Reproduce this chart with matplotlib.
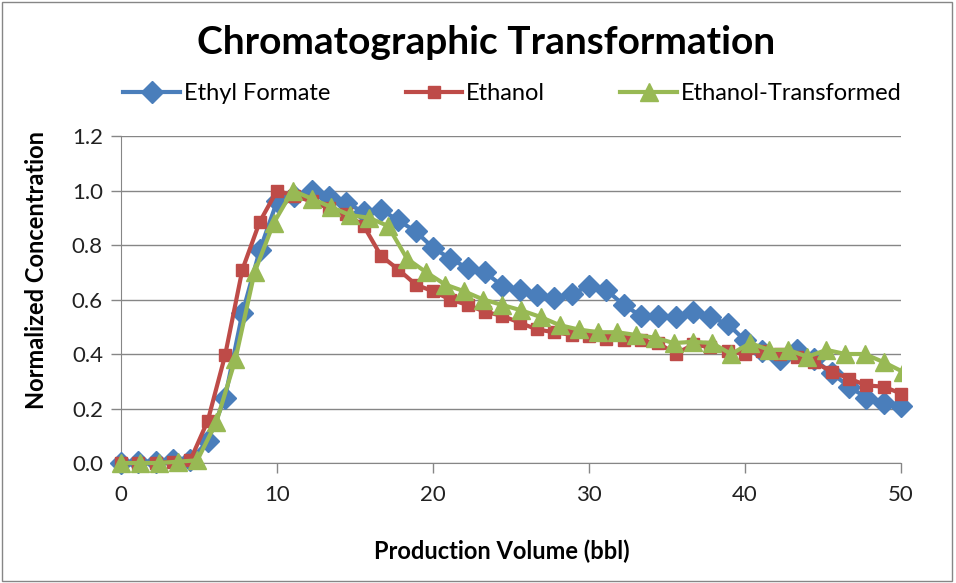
import matplotlib.pyplot as plt
from matplotlib.patches import Rectangle

# production volume (bbl) for the measured samples
volume = [0.0, 1.11, 2.22, 3.33, 4.44, 5.56, 6.67, 7.78, 8.89, 10.0,
          11.11, 12.22, 13.33, 14.44, 15.56, 16.67, 17.78, 18.89, 20.0, 21.11,
          22.22, 23.33, 24.44, 25.56, 26.67, 27.78, 28.89, 30.0, 31.11, 32.22,
          33.33, 34.44, 35.56, 36.67, 37.78, 38.89, 40.0, 41.11, 42.22, 43.33,
          44.44, 45.56, 46.67, 47.78, 48.89, 50.0]

ethyl_formate = [0.0, 0.005, 0.005, 0.01, 0.01, 0.08, 0.24, 0.55, 0.78, 0.96,
                 0.98, 1.0, 0.975, 0.955, 0.92, 0.93, 0.89, 0.85, 0.79, 0.75,
                 0.715, 0.70, 0.65, 0.635, 0.615, 0.605, 0.62, 0.65, 0.635, 0.58,
                 0.54, 0.54, 0.535, 0.555, 0.535, 0.51, 0.45, 0.41, 0.38, 0.415,
                 0.38, 0.33, 0.28, 0.24, 0.22, 0.21]

ethanol = [0.0, 0.0, 0.0, 0.005, 0.01, 0.155, 0.395, 0.71, 0.885, 1.0,
           0.98, 0.96, 0.935, 0.915, 0.87, 0.76, 0.71, 0.655, 0.63, 0.60,
           0.58, 0.555, 0.54, 0.515, 0.49, 0.48, 0.47, 0.465, 0.455, 0.45,
           0.45, 0.44, 0.40, 0.435, 0.425, 0.41, 0.40, 0.41, 0.40, 0.39,
           0.37, 0.335, 0.31, 0.285, 0.28, 0.255]

# transformed volume axis for ethanol
volume_tr = [0.0, 1.22, 2.44, 3.67, 4.89, 6.11, 7.33, 8.56, 9.78, 11.0,
             12.22, 13.44, 14.67, 15.89, 17.11, 18.33, 19.56, 20.78, 22.0, 23.22,
             24.44, 25.67, 26.89, 28.11, 29.33, 30.56, 31.78, 33.0, 34.22, 35.44,
             36.67, 37.89, 39.11, 40.33, 41.56, 42.78, 44.0, 45.22, 46.44, 47.67,
             48.89, 50.11]

ethanol_tr = [0.0, 0.0, 0.0, 0.005, 0.01, 0.15, 0.38, 0.70, 0.88, 1.0,
              0.97, 0.94, 0.91, 0.90, 0.87, 0.75, 0.70, 0.655, 0.63, 0.60,
              0.58, 0.56, 0.536, 0.506, 0.49, 0.48, 0.48, 0.47, 0.46, 0.44,
              0.445, 0.44, 0.40, 0.44, 0.415, 0.415, 0.39, 0.415, 0.40, 0.40,
              0.37, 0.335]

blue = '#4A7EBB'
red = '#BE4B48'
green = '#98B954'
grid_col = '#868686'

fig = plt.figure(figsize=(9.56, 5.83), dpi=100)
fig.patches.append(Rectangle((0.002, 0.003), 0.994, 0.994, transform=fig.transFigure,
                             fill=False, edgecolor='#868686', linewidth=1))

ax = fig.add_axes([0.1266, 0.2058, 0.8159, 0.5609])
ax.plot(volume, ethyl_formate, '-D', color=blue, lw=3, ms=11, label='Ethyl Formate',
        clip_on=False, zorder=3)
ax.plot(volume, ethanol, '-s', color=red, lw=3, ms=8.5, label='Ethanol',
        clip_on=False, zorder=3)
tr_line, = ax.plot(volume_tr, ethanol_tr, '-^', color=green, lw=3, ms=13,
                   label='Ethanol-Transformed', zorder=3)
# only cut the transformed curve at the right edge of the plot
tr_line.set_clip_path(Rectangle((-0.05, -0.05), 1.05, 1.15, transform=ax.transAxes))

ax.set_xlim(0, 50)
ax.set_ylim(0, 1.2)
ax.set_xticks([0, 10, 20, 30, 40, 50])
ax.set_yticks([0.0, 0.2, 0.4, 0.6, 0.8, 1.0, 1.2])
ax.set_yticklabels(['0.0', '0.2', '0.4', '0.6', '0.8', '1.0', '1.2'])
ax.grid(axis='y', color=grid_col, lw=1)
ax.set_axisbelow(True)
for s in ['top', 'right']:
    ax.spines[s].set_visible(False)
for s in ['left', 'bottom']:
    ax.spines[s].set_color(grid_col)
    ax.spines[s].set_zorder(1)
ax.tick_params(axis='both', colors=grid_col, length=7, width=1, labelsize=16,
               labelcolor='#222222')
ax.tick_params(axis='x', pad=9)
ax.tick_params(axis='y', pad=6)
for lab in ax.get_xticklabels() + ax.get_yticklabels():
    lab.set_family('Lato')

ax.set_xlabel('Production Volume (bbl)', fontsize=17, fontweight='bold', family='Lato')
ax.set_ylabel('Normalized Concentration', fontsize=17, fontweight='bold', family='Lato')
ax.xaxis.set_label_coords(0.488, -0.235)
ax.yaxis.set_label_coords(-0.093, 0.59)

fig.text(0.508, 0.927, 'Chromatographic Transformation', ha='center', va='center',
         fontsize=28, fontweight='bold', family='Lato')

fig.legend(loc='center', bbox_to_anchor=(0.536, 0.84), ncol=3, frameon=False,
           prop={'family': 'Lato', 'size': 17}, handlelength=2.4, columnspacing=3.2,
           handletextpad=0.15)

fig.savefig('out.png', dpi=100)
